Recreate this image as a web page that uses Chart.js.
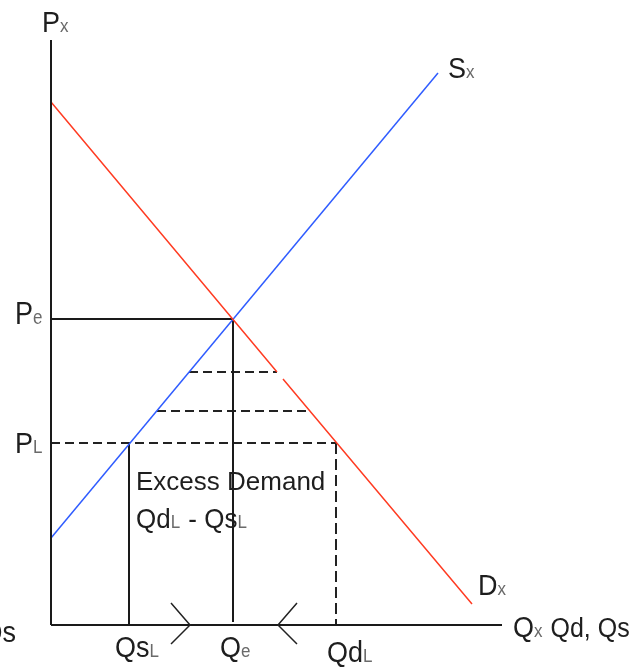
<!DOCTYPE html>
<html>
<head>
<meta charset="utf-8">
<script src="https://cdn.jsdelivr.net/npm/chart.js@4/dist/chart.umd.min.js"></script>
<style>
  html, body { margin: 0; padding: 0; background: #fff; }
  #wrap { width: 633px; height: 667px; }
</style>
</head>
<body>
<div id="wrap"><canvas id="chart"></canvas></div>
<script>
// 軸の範囲
const qMax = 45.1;
const pMax = 58.5;

// 需要曲線 (途中に切れ目あり) と供給曲線
const demandQ = [0, 22.6, null, 23.2, 42.1];
const demandP = [52.3, 25.3, null, 24.6, 2.1];
const supplyQ = [0, 38.7];
const supplyP = [8.7, 55.2];

// 均衡点と上限価格
const Qe = 18.2;
const Pe = 30.6;
const PL = 18.2;
const QsL = 7.8;
const QdL = 28.5;

// 不足分を示す破線の段
const rungP = [25.3, 21.4];
const rungQs = [13.8, 10.6];
const rungQd = [22.6, 25.9];

// 数量の調整方向の矢印
const arrowQ = [13.9, 22.7];
const arrowDir = [1, -1];

function pts(xs, ys) {
    return xs.map((x, i) => (x === null ? { x: NaN, y: NaN } : { x: x, y: ys[i] }));
}

function line(data, color, width, dash) {
    return {
        data: data,
        showLine: true,
        borderColor: color,
        borderWidth: width,
        borderDash: dash || [],
        pointRadius: 0,
        spanGaps: false,
        clip: false,
    };
}

const datasets = [
    line(pts([0, qMax], [0, 0]), "#1a1a1a", 2),
    line(pts([0, 0], [0, pMax]), "#1a1a1a", 2),
    line(pts(demandQ, demandP), "#ff3b22", 1.5),
    line(pts(supplyQ, supplyP), "#2f5cff", 1.5),
    line(pts([0, Qe], [Pe, Pe]), "#1a1a1a", 2),
    line(pts([Qe, Qe], [Pe, 0.3]), "#1a1a1a", 2),
    line(pts([QsL, QsL], [PL, 0]), "#1a1a1a", 2),
    line(pts([0, QdL], [PL, PL]), "#222", 2.2, [9, 5]),
    line(pts([QdL, QdL], [PL, 0]), "#222", 2, [11, 5]),
];
rungP.forEach((p, i) => {
    datasets.push(line(pts([rungQs[i], rungQd[i]], [p, p]), "#222", 2.2, [9, 5]));
});

// ラベル: 本文と下付き文字の組み合わせ (sy は縦方向の伸ばし具合)
const MAIN = '27px "Liberation Sans", Arial, sans-serif';
const SUB = '17px "Liberation Sans", Arial, sans-serif';
const MID = '26px "Liberation Sans", Arial, sans-serif';
const labels = [
    { q: 0, p: pMax, dx: -9, dy: -8, sy: 1.12, runs: [["P"], ["x", 1]] },
    { q: supplyQ[1], p: supplyP[1], dx: 10, dy: 5, sy: 1.12, runs: [["S"], ["x", 1]] },
    { q: 0, p: Pe, dx: -36, dy: 5, sy: 1.15, runs: [["P"], ["e", 1]] },
    { q: 0, p: PL, dx: -36, dy: 10, sy: 1.12, runs: [["P"], ["L", 1]] },
    { q: demandQ[4], p: demandP[4], dx: 6, dy: -9, sy: 1.12, runs: [["D"], ["x", 1]] },
    { q: qMax, p: 0, dx: 11, dy: 12, sy: 1.08, runs: [["Q"], ["x", 1], [" Qd, Qs", 0, '25px "Liberation Sans", Arial, sans-serif']] },
    { q: 0, p: 0, dx: -51, dy: 17, sy: 1.12, runs: [["Qs"]], align: "right", rx: 16 },
    { q: QsL, p: 0, dx: -14, dy: 32, sy: 1.1, runs: [["Qs"], ["L", 1]] },
    { q: Qe, p: 0, dx: -13, dy: 32, sy: 1.1, runs: [["Q"], ["e", 1]] },
    { q: QdL, p: 0, dx: -9, dy: 37, sy: 1.1, runs: [["Qd"], ["L", 1]] },
    { q: QsL, p: PL, dx: 7, dy: 47, sy: 1, runs: [["Excess Demand", 0, MID]] },
    { q: QsL, p: PL, dx: 7, dy: 85, sy: 1.05, runs: [["Qd", 0, MID], ["L", 1], [" - Qs", 0, MID], ["L", 1]] },
];

const annotate = {
    id: "annotate",
    afterDatasetsDraw(chart) {
        const ctx = chart.ctx;
        const xs = chart.scales.x;
        const ys = chart.scales.y;
        ctx.save();
        ctx.textBaseline = "alphabetic";

        labels.forEach((lb) => {
            let x = xs.getPixelForValue(lb.q) + lb.dx;
            const y = ys.getPixelForValue(lb.p) + lb.dy;
            if (lb.align === "right") {
                ctx.font = MAIN;
                x = lb.rx - ctx.measureText(lb.runs[0][0]).width;
            }
            ctx.save();
            ctx.translate(0, y);
            ctx.scale(1, lb.sy);
            lb.runs.forEach((r) => {
                const sub = r[1] === 1;
                ctx.font = r[2] || (sub ? SUB : MAIN);
                ctx.fillStyle = sub ? "#6a6a6a" : "#1e1e1e";
                ctx.fillText(r[0], x, 0);
                x += ctx.measureText(r[0]).width + (sub ? 1 : 0);
            });
            ctx.restore();
        });

        // x軸上の矢印
        ctx.strokeStyle = "#222";
        ctx.lineWidth = 1.5;
        const y0 = ys.getPixelForValue(0);
        arrowQ.forEach((q, i) => {
            const tx = xs.getPixelForValue(q);
            const d = arrowDir[i];
            ctx.beginPath();
            ctx.moveTo(tx - d * 19, y0 - 22);
            ctx.lineTo(tx, y0);
            ctx.lineTo(tx - d * 19, y0 + 19);
            ctx.stroke();
        });
        ctx.restore();
    },
};

new Chart(document.getElementById("chart"), {
    type: "scatter",
    data: { datasets: datasets },
    options: {
        responsive: true,
        maintainAspectRatio: false,
        animation: false,
        events: [],
        layout: { padding: { left: 51, right: 131, top: 40, bottom: 42 } },
        scales: {
            x: { type: "linear", min: 0, max: qMax, display: false },
            y: { type: "linear", min: 0, max: pMax, display: false },
        },
        plugins: {
            legend: { display: false },
            tooltip: { enabled: false },
        },
    },
    plugins: [annotate],
});
</script>
</body>
</html>
